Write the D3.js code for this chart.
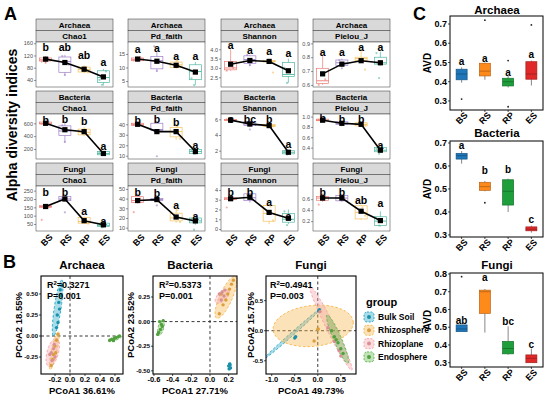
<!DOCTYPE html>
<html><head><meta charset="utf-8">
<script src="https://cdn.jsdelivr.net/npm/d3@7"></script>
<style>body{margin:0;background:#fff}svg{display:block}text{font-family:"Liberation Sans",Arial,sans-serif}</style>
</head><body><svg id="c" width="550" height="399"></svg>
<script>
// ---------------- DATA ----------------
const groupsA = ["BS","RS","RP","ES"];
const kingdoms = ["Archaea","Bacteria","Fungi"];
const indices = ["Chao1","Pd_faith","Shannon","Pielou_J"];
const colorsA = ["#ec7b73","#9c7dc6","#f3c25c","#4fb7a0"];

const alphaDomain = [
 [[17,164],[2.8,19.4],[1.98,4.39],[0.585,0.91]],
 [[44,745],[6.9,49.8],[0.94,6.68],[0.18,1.05]],
 [[8,278],[6.6,53],[-0.2,4.4],[0.02,0.84]]];
const alphaTicks = [
 [[40,80,120,160],[5,10,15],[2.5,3.0,3.5,4.0],[0.6,0.7,0.8,0.9]],
 [[200,400,600],[10,20,30,40],[2,4,6],[0.4,0.6,0.8,1.0]],
 [[50,100,150,200,250],[10,20,30,40,50],[0,1,2,3,4],[0.2,0.4,0.6]]];
const alphaMeans = [
 [[108,97,75,50],[13.1,12.3,10.8,8.3],[3.2,3.4,3.35,2.85],[0.68,0.75,0.775,0.76]],
 [[600,500,470,130],[40,33,33,14],[5.9,5.4,5.2,1.8],[0.93,0.87,0.85,0.35]],
 [[155,200,70,45],[38,39,21,17],[3.1,3.25,1.7,1.1],[0.62,0.62,0.38,0.21]]];
const alphaBoxes = [
 [[[96,102,106,112,118],[55,65,100,115,122],[62,66,74,82,88],[22,32,48,70,76]],
  [[12,12.5,13,13.5,14],[8.5,9.5,12.5,14,16],[9.5,10,11,12,13],[3.5,5.5,8.5,11,12]],
  [[2.85,2.9,3.0,3.35,4.0],[3.1,3.25,3.45,3.65,3.7],[3.3,3.32,3.35,3.4,3.45],[2.2,2.55,2.65,3.3,3.5]],
  [[0.6,0.61,0.63,0.72,0.82],[0.73,0.74,0.76,0.78,0.79],[0.77,0.775,0.79,0.8,0.86],[0.74,0.75,0.76,0.8,0.84]]],
 [[[580,590,600,620,630],[300,410,480,560,620],[400,420,460,510,540],[100,110,130,160,170]],
  [[38,39,40,41,42],[33,34,35,41,43],[25,28,33,37,40],[11,12,14,16,17]],
  [[5.8,5.85,5.9,6.0,6.05],[5.0,5.2,5.4,5.7,5.8],[5.0,5.1,5.2,5.35,5.4],[1.5,1.6,1.8,2.0,2.1]],
  [[0.91,0.92,0.93,0.95,0.96],[0.83,0.85,0.87,0.9,0.91],[0.8,0.82,0.85,0.88,0.9],[0.3,0.32,0.35,0.4,0.42]]],
 [[[148,150,155,160,162],[185,190,200,215,220],[50,55,65,90,95],[30,35,42,55,58]],
  [[35,36,38,42,45],[37,38,39,40,41],[15,17,20,25,30],[13,15,17,20,22]],
  [[2.9,3.0,3.1,3.2,3.3],[2.7,2.9,3.2,3.6,3.7],[0.5,0.8,1.6,2.4,2.6],[0.5,0.7,1.0,1.6,2.0]],
  [[0.55,0.58,0.62,0.65,0.7],[0.55,0.57,0.62,0.67,0.69],[0.22,0.24,0.36,0.48,0.5],[0.1,0.12,0.2,0.28,0.38]]]];
const alphaPoints = [
 [[[100,110,96,104],[56,118,90],[64,80,70],[24,40,68]],
  [[12.6,13.8],[8.7,17.8],[10.2,12.5],[3.5,6]],
  [[2.85,3.0],[3.15,3.7],[2.75,3.4],[2.2,3.0]],
  [[0.6,0.64],[0.72,0.78],[0.71,0.85],[0.65,0.83]]],
 [[[590,610],[310,570],[420,500],[110,150]],
  [[39.5],[9.5,34],[26,38],[12,15]],
  [[6.0],[4.7,5.6],[5.1,5.3],[1.5,1.9]],
  [[0.94],[0.84],[0.83],[0.28,0.38]]],
 [[[75,158],[120,205],[52,85],[30,50]],
  [[26,40],[33,39],[16,28],[8,19]],
  [[2.2,3.1],[3.0,3.5],[0.9,2.3],[0.4,1.8]],
  [[0.5,0.65],[0.6],[0.3,0.45],[0.12,0.25]]]];
const alphaLetters = [
 [["b","ab","ab","a"],["a","a","a","a"],["a","a","a","a"],["a","a","a","a"]],
 [["b","b","b","a"],["b","b","b","a"],["c","bc","b","a"],["b","b","b","a"]],
 [["b","b","a","a"],["b","b","a","a"],["b","b","a","a"],["b","b","ab","a"]]];
const alphaLetterY = [
 [[133,133,110,87],[15.2,15.6,12.6,12.6],[4.0,3.77,3.68,3.6],[0.807,0.807,0.848,0.845]],
 [[597,610,571,181],[40.7,41.5,38.2,16.9],[5.56,5.47,5.47,2.28],[0.9,0.867,0.867,0.383]],
 [[220,220,103,43],[43.0,41.9,29.8,17.7],[3.4,3.4,2.34,0.9],[0.66,0.66,0.52,0.46]]];

// PCoA
const groupsB = ["Bulk Soil","Rhizosphere","Rhizoplane","Endosphere"];
const colorsB = ["#1ea3c2","#f6b447","#f5a3a9","#5db547"];
const pcoaTitles = ["Archaea","Bacteria","Fungi"];
const pcoaXLabels = ["PCoA1 36.61%","PCoA1 27.71%","PCoA1 49.73%"];
const pcoaYLabels = ["PCoA2 18.55%","PCoA2 23.52%","PCoA2 15.75%"];
const pcoaR2 = ["0.3271","0.5373","0.4941"];
const pcoaP = ["0.001","0.001","0.003"];
const pcoaXDomain = [[-0.387,0.707],[-0.61,0.289],[-1.124,0.83]];
const pcoaYDomain = [[-0.452,0.714],[-0.532,0.463],[-0.72,0.91]];
const pcoaXTicks = [[-0.2,0,0.2,0.4,0.6],[-0.6,-0.4,-0.2,0,0.2],[-1,-0.5,0,0.5]];
const pcoaXTickLabels = [["-0.2","0.0","0.2","0.4","0.6"],["-0.6","-0.4","-0.2","0.0","0.2"],["-1.0","-0.5","0.0","0.5"]];
const pcoaYTicks = [[-0.25,0,0.25,0.5],[-0.5,-0.25,0,0.25],[-0.5,0,0.5]];
const pcoaYTickLabels = [["-0.25","0.00","0.25","0.50"],["-0.50","-0.25","0.00","0.25"],["-0.5","0.0","0.5"]];
const archaeaPts = [
 [[-0.13,0.55],[-0.12,0.48],[-0.15,0.4],[-0.14,0.32],[-0.17,0.25],[-0.16,0.16],[-0.11,0.6],[-0.18,0.1]],
 [[-0.16,0.02],[-0.18,-0.05],[-0.2,-0.12],[-0.23,-0.28],[-0.25,-0.35],[-0.19,-0.2],[-0.22,-0.22]],
 [[-0.22,-0.15],[-0.25,-0.2],[-0.2,-0.25],[-0.27,-0.22],[-0.21,-0.1],[-0.24,-0.29]],
 [[0.53,-0.05],[0.56,-0.04],[0.59,-0.03],[0.61,-0.02],[0.64,-0.01],[0.58,-0.055],[0.66,0.0]]];
const archaeaEll = [[-0.165,0.333,0.055,0.333,0.045,-0.005],[-0.21,-0.175,0.055,0.225,0.035,-0.008],
 [-0.23,-0.195,0.05,0.17,0.075,-0.015],[0.6,-0.03,0.09,0.03,0.008,-0.022]];
const bacteriaPts = [
 [[0.21,-0.43],[0.2,-0.45],[0.22,-0.47],[0.215,-0.44],[0.205,-0.48]],
 [[0.1,0.08],[0.14,0.17],[0.19,0.28],[0.23,0.38],[0.17,0.22],[0.21,0.33],[0.12,0.28],[0.25,0.42]],
 [[0.1,0.28],[0.13,0.3],[0.15,0.26],[0.12,0.22],[0.16,0.32]],
 [[-0.55,-0.11],[-0.53,-0.08],[-0.52,-0.03],[-0.54,0.0],[-0.51,-0.05],[-0.56,-0.13],[-0.5,0.01]]];
const bacteriaEll = [[0.21,-0.455,0.005,0.04,0.012,0],[0.17,0.245,0.1,0.21,0.06,-0.03],
 [0.13,0.255,0.07,0.06,0.03,-0.035],[-0.525,-0.06,0.02,0.08,0.03,-0.005]];
const fungiPts = [
 [[0.035,0.35],[0.02,0.33],[-0.5,-0.12],[-0.48,-0.1]],
 [[0.0,0.02],[-0.08,-0.17],[0.01,0.03]],
 [[0.05,0.32],[0.22,0.05],[0.36,-0.18],[0.46,-0.33],[0.5,-0.42]],
 [[0.3,0.0],[0.36,-0.1],[0.44,-0.2],[0.5,-0.3],[0.4,-0.15],[0.55,-0.38]]];
const fungiEll = [[-0.55,-0.05,0.62,0.42,0.015,-0.025],[-0.1,0.08,0.87,0.06,-0.02,0.34],
 [0.287,0.04,0.454,-0.694,0.07,0.05],[0.43,-0.14,0.23,-0.4,0.07,0.04]];
const pcoaPts = [archaeaPts, bacteriaPts, fungiPts];
const pcoaEll = [archaeaEll, bacteriaEll, fungiEll];

// AVD
const colorsC = ["#1f76b8","#ff8a1c","#1f9e3c","#e02a2a"];
const avdTitles = ["Archaea","Bacteria","Fungi"];
const avdDomain = [[0.253,0.7416],[0.291,0.7087],[0.2758,0.8056]];
const avdTicks = [[0.3,0.4,0.5,0.6,0.7],[0.3,0.4,0.5,0.6,0.7],[0.3,0.4,0.5,0.6,0.7,0.8]];
const avdBoxes = [
 [[0.395,0.41,0.44,0.465,0.475],[0.41,0.43,0.455,0.496,0.50],[0.37,0.378,0.40,0.418,0.43],[0.38,0.413,0.44,0.504,0.51]],
 [[0.61,0.63,0.645,0.655,0.665],[0.49,0.494,0.51,0.529,0.535],[0.40,0.43,0.49,0.54,0.545],[0.31,0.318,0.325,0.335,0.34]],
 [[0.475,0.475,0.49,0.513,0.513],[0.47,0.578,0.70,0.709,0.715],[0.345,0.35,0.38,0.42,0.505],[0.30,0.30,0.325,0.344,0.38]]];
const avdOutliers = [
 [[0.31],[0.72],[0.51,0.27],[0.695]],
 [[],[0.44],[],[]],
 [[0.785],[],[],[]]];
const avdLetters = [["a","a","a","a"],["a","b","b","c"],["ab","a","bc","c"]];
const avdLetterY = [[0.505,0.52,0.45,0.54],[0.69,0.58,0.585,0.365],[0.54,0.78,0.535,0.405]];

// ---------------- DRAW ----------------
const svg = d3.select("#c");
const FONT = '"Liberation Sans",Arial,sans-serif';
function txt(g,x,y,s,size,opts={}){
  const t=g.append("text").attr("x",x).attr("y",y).attr("font-size",size)
   .attr("font-weight",opts.w||"bold").attr("text-anchor",opts.a||"start").attr("fill",opts.f||"#000").text(s);
  if(opts.dy) t.attr("dy",opts.dy);
  if(opts.rot!==undefined) t.attr("transform",`rotate(${opts.rot},${x},${y})`);
  return t;
}
function box(g,cx,w,b,y,stroke,fill,sw,wstroke){
  g.append("line").attr("x1",cx).attr("x2",cx).attr("y1",y(b[0])).attr("y2",y(b[1])).attr("stroke",wstroke||stroke).attr("stroke-width",sw);
  g.append("line").attr("x1",cx).attr("x2",cx).attr("y1",y(b[3])).attr("y2",y(b[4])).attr("stroke",wstroke||stroke).attr("stroke-width",sw);
  g.append("rect").attr("x",cx-w/2).attr("y",y(b[3])).attr("width",w).attr("height",Math.max(0.8,y(b[1])-y(b[3])))
   .attr("fill",fill).attr("stroke",stroke).attr("stroke-width",sw);
  g.append("line").attr("x1",cx-w/2).attr("x2",cx+w/2).attr("y1",y(b[2])).attr("y2",y(b[2])).attr("stroke",stroke).attr("stroke-width",sw*1.3);
}

// Panel letters
txt(svg,4,20,"A",18);
txt(svg,3,268,"B",18);
txt(svg,413,20,"C",18);

// ---- Panel A ----
const colX=[36,128,221,313], pW=77, rowT=[19,91,163], sH=11.5, pH=45;
txt(svg,17,125,"Alpha diversity indices",14,{a:"middle",rot:-90});
kingdoms.forEach((k,ki)=>indices.forEach((m,mi)=>{
  const x0=colX[mi], y0=rowT[ki], py=y0+2*sH;
  const g=svg.append("g");
  [k,m].forEach((t,si)=>{
    g.append("rect").attr("x",x0).attr("y",y0+si*sH).attr("width",pW).attr("height",sH)
     .attr("fill","#d9d9d9").attr("stroke","#333").attr("stroke-width",0.5);
    txt(g,x0+pW/2,y0+si*sH+sH/2,t,8,{a:"middle",dy:"0.35em"});
  });
  const x=d3.scalePoint().domain(groupsA).range([x0,x0+pW]).padding(0.5);
  const y=d3.scaleLinear().domain(alphaDomain[ki][mi]).range([py+pH,py]);
  g.append("rect").attr("x",x0).attr("y",py).attr("width",pW).attr("height",pH).attr("fill","#fff");
  const ticks=alphaTicks[ki][mi];
  const dec=ticks.some(v=>!Number.isInteger(v))?1:0;
  const ax=g.append("g").attr("transform",`translate(${x0},0)`)
    .call(d3.axisLeft(y).tickValues(ticks).tickSize(2).tickPadding(1).tickFormat(d3.format(`.${dec}f`)));
  ax.select(".domain").remove();
  ax.selectAll("line").attr("stroke","#333").attr("stroke-width",0.5);
  ax.selectAll("text").attr("font-size",5.5).attr("fill","#4d4d4d").attr("font-family",FONT);
  groupsA.forEach((gr,gi)=>{
    const cx=x(gr), col=colorsA[gi];
    box(g,cx,12,alphaBoxes[ki][mi][gi],y,col,"none",0.7);
    alphaPoints[ki][mi][gi].forEach((v,pi)=>{
      const off=((pi*5+gi*3)%7-3)*1.3;
      g.append("circle").attr("cx",cx+off).attr("cy",y(v)).attr("r",1.1).attr("fill",col).attr("opacity",0.6);
    });
  });
  const means=alphaMeans[ki][mi];
  g.append("path").datum(means).attr("fill","none").attr("stroke","#000").attr("stroke-width",1.6)
   .attr("d",d3.line().x((d,i)=>x(groupsA[i])).y(d=>y(d)));
  means.forEach((v,i)=>g.append("rect").attr("x",x(groupsA[i])-2.6).attr("y",y(v)-2.6).attr("width",5.2).attr("height",5.2).attr("fill","#000"));
  alphaLetters[ki][mi].forEach((l,i)=>txt(g,x(groupsA[i]),y(alphaLetterY[ki][mi][i]),l,10.5,{a:"middle"}));
  g.append("rect").attr("x",x0).attr("y",py).attr("width",pW).attr("height",pH).attr("fill","none").attr("stroke","#333").attr("stroke-width",0.5);
  if(ki===2){
    groupsA.forEach(gr=>txt(g,x(gr)+1,240,gr,9,{a:"middle",dy:"0.35em",rot:-45}));
  }
}));

// ---- Panel B ----
const bBoxX=[[41,123],[153,237],[266,356]], bBoxY=[276,374];
const bTitleX=[82,190,311], bYTitleX=[22,134,254];
pcoaTitles.forEach((t,pi)=>{
  const g=svg.append("g");
  const [xa,xb]=bBoxX[pi];
  const x=d3.scaleLinear().domain(pcoaXDomain[pi]).range([xa,xb]);
  const y=d3.scaleLinear().domain(pcoaYDomain[pi]).range([bBoxY[1],bBoxY[0]]);
  txt(g,bTitleX[pi],269,t,11.5,{a:"middle"});
  const clipId="clip"+pi;
  g.append("clipPath").attr("id",clipId).append("rect").attr("x",xa).attr("y",bBoxY[0]).attr("width",xb-xa).attr("height",bBoxY[1]-bBoxY[0]);
  const inner=g.append("g").attr("clip-path",`url(#${clipId})`);
  inner.append("line").attr("x1",x(0)).attr("x2",x(0)).attr("y1",bBoxY[0]).attr("y2",bBoxY[1]).attr("stroke","#222").attr("stroke-dasharray","3,2.5").attr("stroke-width",0.9);
  inner.append("line").attr("x1",xa).attr("x2",xb).attr("y1",y(0)).attr("y2",y(0)).attr("stroke","#222").attr("stroke-dasharray","3,2.5").attr("stroke-width",0.9);
  pcoaEll[pi].forEach((e,gi)=>{
    const pts=d3.range(0,73).map(i=>{const t=i/72*2*Math.PI;
      return [x(e[0]+e[2]*Math.cos(t)+e[4]*Math.sin(t)), y(e[1]+e[3]*Math.cos(t)+e[5]*Math.sin(t))];});
    inner.append("path").attr("d",d3.line()(pts)+"Z").attr("fill",colorsB[gi]).attr("fill-opacity",0.38)
      .attr("stroke",colorsB[gi]).attr("stroke-width",0.9).attr("stroke-dasharray","2.5,2");
  });
  pcoaPts[pi].forEach((arr,gi)=>arr.forEach(p=>{
    inner.append("circle").attr("cx",x(p[0])).attr("cy",y(p[1])).attr("r",1.7).attr("fill",d3.color(colorsB[gi]).darker(0.35));
  }));
  g.append("rect").attr("x",xa).attr("y",bBoxY[0]).attr("width",xb-xa).attr("height",bBoxY[1]-bBoxY[0]).attr("fill","none").attr("stroke","#000").attr("stroke-width",1.1);
  pcoaXTicks[pi].forEach((v,i)=>{
    g.append("line").attr("x1",x(v)).attr("x2",x(v)).attr("y1",bBoxY[1]).attr("y2",bBoxY[1]+2).attr("stroke","#000").attr("stroke-width",0.7);
    txt(g,x(v),bBoxY[1]+8,pcoaXTickLabels[pi][i],7.5,{a:"middle"});
  });
  pcoaYTicks[pi].forEach((v,i)=>{
    g.append("line").attr("x1",xa-2).attr("x2",xa).attr("y1",y(v)).attr("y2",y(v)).attr("stroke","#000").attr("stroke-width",0.7);
    txt(g,xa-3,y(v),pcoaYTickLabels[pi][i],6,{a:"end",dy:"0.35em"});
  });
  txt(g,(xa+xb)/2,394,pcoaXLabels[pi],9.5,{a:"middle"});
  txt(g,bYTitleX[pi],(bBoxY[0]+bBoxY[1])/2,pcoaYLabels[pi],9.5,{a:"middle",rot:-90});
  const r=txt(g,xa+(pi===2?4:6),288,"R",9);
  r.append("tspan").attr("font-size",6).attr("dy",-3.5).text("2");
  r.append("tspan").attr("dy",3.5).text("="+pcoaR2[pi]);
  txt(g,xa+(pi===2?4:6),299,"P="+pcoaP[pi],9);
});
// legend
const lg=svg.append("g");
txt(lg,366,306,"group",11);
groupsB.forEach((gname,gi)=>{
  const cy=317+gi*13.3;
  lg.append("rect").attr("x",364).attr("y",cy-5).attr("width",10).attr("height",10).attr("rx",3)
    .attr("fill",colorsB[gi]).attr("fill-opacity",0.38).attr("stroke",colorsB[gi]).attr("stroke-dasharray","2,1.5").attr("stroke-width",0.9);
  lg.append("circle").attr("cx",369).attr("cy",cy).attr("r",2).attr("fill",d3.color(colorsB[gi]).darker(0.35));
  txt(lg,378,cy,gname,8.5,{dy:"0.35em"});
});

// ---- Panel C ----
const cX=[450,543], cFrames=[[16,110],[141,237],[273,367]], cTitleY=[14,137,269];
avdTitles.forEach((t,ci)=>{
  const g=svg.append("g");
  const [ya,yb]=cFrames[ci];
  const x=d3.scaleBand().domain(groupsA).range(cX);
  const y=d3.scaleLinear().domain(avdDomain[ci]).range([yb,ya]);
  txt(g,497,cTitleY[ci],t,11.5,{a:"middle"});
  groupsA.forEach((gr,gi)=>{
    const cx=x(gr)+x.bandwidth()/2, col=colorsC[gi];
    box(g,cx,11,avdBoxes[ci][gi],y,d3.color(col).darker(0.9),col,0.7,"#555");
    avdOutliers[ci][gi].forEach(v=>g.append("circle").attr("cx",cx).attr("cy",y(v)).attr("r",0.9).attr("fill","#222"));
    txt(g,cx,y(avdLetterY[ci][gi]),avdLetters[ci][gi],10,{a:"middle",dy:"0.35em"});
    txt(g,cx,yb+8,gr,9,{a:"middle",dy:"0.35em",rot:-45});
    g.append("line").attr("x1",cx).attr("x2",cx).attr("y1",yb).attr("y2",yb+2).attr("stroke","#000").attr("stroke-width",0.7);
  });
  avdTicks[ci].forEach(v=>{
    g.append("line").attr("x1",cX[0]-2).attr("x2",cX[0]).attr("y1",y(v)).attr("y2",y(v)).attr("stroke","#000").attr("stroke-width",0.7);
    txt(g,cX[0]-3,y(v),v.toFixed(1),9,{a:"end",dy:"0.35em"});
  });
  g.append("rect").attr("x",cX[0]).attr("y",ya).attr("width",cX[1]-cX[0]).attr("height",yb-ya).attr("fill","none").attr("stroke","#000").attr("stroke-width",1);
  txt(g,431,(ya+yb)/2,"AVD",10,{a:"middle",rot:-90});
});
</script></body></html>
